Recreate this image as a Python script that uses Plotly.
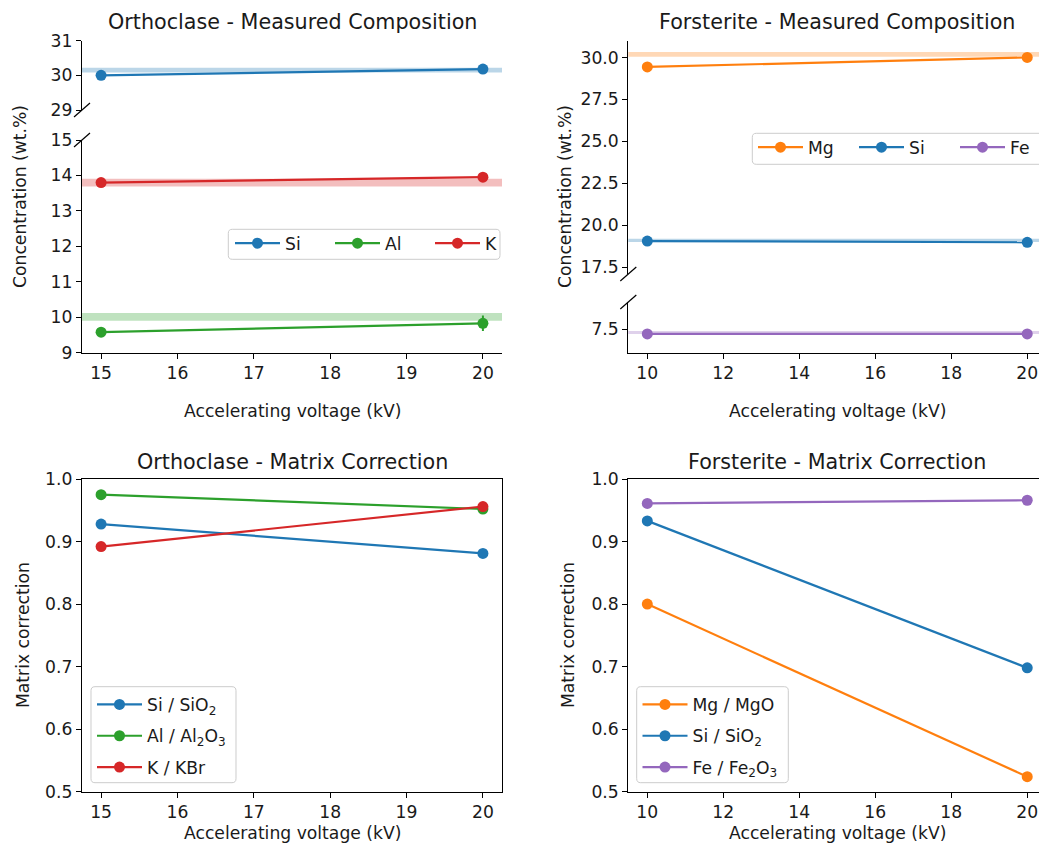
import plotly.graph_objects as go

W, H = 1039, 846
FONT = "DejaVu Sans"
TXT = "#1a1a1a"
FS = 17.2      # 10pt text
FT = 20.7      # 12pt titles

# ---------------- data ----------------
# Orthoclase - measured composition (wt.%)
ortho_kv = [15, 20]
ortho_elements = ["Si", "Al", "K"]
ortho_values = {
    "Si": [30.00, 30.18],
    "Al": [9.58, 9.83],
    "K": [13.80, 13.95],
}
ortho_errors = {
    "Si": [0.02, 0.03],
    "Al": [0.03, 0.22],
    "K": [0.03, 0.04],
}
# nominal composition band (low, high)
ortho_nominal = {
    "Si": [30.08, 30.22],
    "Al": [9.90, 10.12],
    "K": [13.69, 13.91],
}

# Forsterite - measured composition (wt.%)
fo_kv = [10, 20]
fo_elements = ["Mg", "Si", "Fe"]
fo_values = {
    "Mg": [29.44, 30.00],
    "Si": [19.06, 18.99],
    "Fe": [7.22, 7.22],
}
fo_errors = {
    "Mg": [0.05, 0.05],
    "Si": [0.04, 0.04],
    "Fe": [0.03, 0.03],
}
fo_nominal = {
    "Mg": [30.05, 30.32],
    "Si": [19.00, 19.20],
    "Fe": [7.22, 7.40],
}

# Matrix corrections
ortho_mc_labels = ["Si / SiO<sub>2</sub>", "Al / Al<sub>2</sub>O<sub>3</sub>", "K / KBr"]
ortho_mc_values = [
    [0.928, 0.881],
    [0.975, 0.952],
    [0.892, 0.956],
]
fo_mc_labels = ["Mg / MgO", "Si / SiO<sub>2</sub>", "Fe / Fe<sub>2</sub>O<sub>3</sub>"]
fo_mc_values = [
    [0.800, 0.524],
    [0.933, 0.698],
    [0.961, 0.966],
]

COLORS = {"Si": "#1f77b4", "Al": "#2ca02c", "K": "#d62728", "Mg": "#ff7f0e", "Fe": "#9467bd"}
ortho_mc_colors = ["#1f77b4", "#2ca02c", "#d62728"]
fo_mc_colors = ["#ff7f0e", "#1f77b4", "#9467bd"]


def rgba(hexc, a):
    h = hexc.lstrip("#")
    return "rgba(%d,%d,%d,%s)" % (int(h[0:2], 16), int(h[2:4], 16), int(h[4:6], 16), a)


def dx(x0, x1):
    return [x0 / W, min(x1 / W, 1.0)]


def dy(top, bot):
    return [1 - bot / H, 1 - top / H]


# ---------------- layout axes ----------------
tickfont = dict(family=FONT, size=FS, color=TXT)
common = dict(showgrid=False, zeroline=False, showline=True, linecolor="black", linewidth=1.2,
              ticks="outside", ticklen=5, tickwidth=1.2, tickcolor="black", tickfont=tickfont)

ranges = {
    "y": [29, 31], "y2": [9, 15], "y3": [17.1, 31.0], "y4": [6.1, 9.12],
}

layout = dict(
    width=W, height=H,
    margin=dict(l=0, r=0, t=0, b=0, autoexpand=False),
    paper_bgcolor="white", plot_bgcolor="white",
    font=dict(family=FONT, size=FS, color=TXT),
    # top-left, upper segment
    xaxis=dict(common, domain=dx(82, 502), range=[14.75, 20.25], anchor="y",
               showline=False, ticks="", showticklabels=False),
    yaxis=dict(common, domain=dy(40.7, 110), range=ranges["y"], anchor="x",
               tickvals=[29, 30, 31]),
    # top-left, lower segment
    xaxis2=dict(common, domain=dx(82, 502), range=[14.75, 20.25], anchor="y2",
                tickvals=[15, 16, 17, 18, 19, 20]),
    yaxis2=dict(common, domain=dy(140, 352.7), range=ranges["y2"], anchor="x2",
                tickvals=[9, 10, 11, 12, 13, 14, 15]),
    # top-right, upper segment
    xaxis3=dict(common, domain=dx(628.3, 1039), range=[9.5, 20.31], anchor="y3",
                showline=False, ticks="", showticklabels=False),
    yaxis3=dict(common, domain=dy(40.7, 274), range=ranges["y3"], anchor="x3",
                tickvals=[17.5, 20.0, 22.5, 25.0, 27.5, 30.0], tickformat=".1f"),
    # top-right, lower segment
    xaxis4=dict(common, domain=dx(628.3, 1039), range=[9.5, 20.31], anchor="y4",
                tickvals=[10, 12, 14, 16, 18, 20]),
    yaxis4=dict(common, domain=dy(302, 352.7), range=ranges["y4"], anchor="x4",
                tickvals=[7.5], tickformat=".1f"),
    # bottom-left
    xaxis5=dict(common, domain=dx(82, 502), range=[14.75, 20.25], anchor="y5", mirror=True,
                tickvals=[15, 16, 17, 18, 19, 20]),
    yaxis5=dict(common, domain=dy(479, 791.7), range=[0.5, 1.0], anchor="x5", mirror=True,
                tickvals=[0.5, 0.6, 0.7, 0.8, 0.9, 1.0], tickformat=".1f"),
    # bottom-right
    xaxis6=dict(common, domain=dx(628.3, 1039), range=[9.5, 20.31], anchor="y6", mirror=True,
                tickvals=[10, 12, 14, 16, 18, 20]),
    yaxis6=dict(common, domain=dy(479, 791.7), range=[0.5, 1.0], anchor="x6",
                tickvals=[0.5, 0.6, 0.7, 0.8, 0.9, 1.0], tickformat=".1f"),
)

legend_common = dict(bgcolor="rgba(0,0,0,0)", borderwidth=0, itemwidth=45,
                     font=dict(family=FONT, size=FS, color=TXT), xanchor="left", yanchor="top")
layout["legend"] = dict(legend_common, x=230 / W, y=1 - 225.5 / H, orientation="h",
                        entrywidth=40, entrywidthmode="pixels")
layout["legend2"] = dict(legend_common, x=753 / W, y=1 - 129.5 / H, orientation="h",
                         entrywidth=41, entrywidthmode="pixels")
layout["legend3"] = dict(legend_common, x=92 / W, y=1 - 686.7 / H, tracegroupgap=6)
layout["legend4"] = dict(legend_common, x=637.5 / W, y=1 - 686.7 / H, tracegroupgap=6)

fig = go.Figure(layout=layout)
shapes = []


def in_range(vals, rng):
    return all(rng[0] <= v <= rng[1] for v in vals)


def rounded_box(x0, y0, x1, y1, r=4):
    # pixel coordinates (top-left origin) -> paper path with rounded corners
    def P(x, y):
        return "%.5f,%.5f" % (x / W, 1 - y / H)
    path = ("M" + P(x0 + r, y0) + " L" + P(x1 - r, y0) + " Q" + P(x1, y0) + " " + P(x1, y0 + r) +
            " L" + P(x1, y1 - r) + " Q" + P(x1, y1) + " " + P(x1 - r, y1) +
            " L" + P(x0 + r, y1) + " Q" + P(x0, y1) + " " + P(x0, y1 - r) +
            " L" + P(x0, y0 + r) + " Q" + P(x0, y0) + " " + P(x0 + r, y0) + " Z")
    return dict(type="path", xref="paper", yref="paper", path=path,
                fillcolor="rgba(255,255,255,0.8)", line=dict(color="#cccccc", width=1), layer="above")


# ---------- top-left: orthoclase measured composition ----------
for el in ortho_elements:
    vals = ortho_values[el]
    ax = "y" if in_range(vals, ranges["y"]) else "y2"
    xa = "x" if ax == "y" else "x2"
    band = ortho_nominal[el]
    shapes.append(dict(type="rect", xref=xa + " domain", yref=ax, x0=0, x1=1,
                       y0=band[0], y1=band[1], fillcolor=rgba(COLORS[el], 0.3),
                       line=dict(width=0), layer="below"))
    fig.add_trace(go.Scatter(
        x=ortho_kv, y=vals, xaxis=xa, yaxis=ax, name=el, legend="legend",
        mode="lines+markers", line=dict(color=COLORS[el], width=2.2),
        marker=dict(color=COLORS[el], size=11),
        error_y=dict(type="data", array=ortho_errors[el], color=COLORS[el], thickness=2, width=0),
    ))

# ---------- top-right: forsterite measured composition ----------
for el in fo_elements:
    vals = fo_values[el]
    ax = "y3" if in_range(vals, ranges["y3"]) else "y4"
    xa = "x3" if ax == "y3" else "x4"
    band = fo_nominal[el]
    shapes.append(dict(type="rect", xref=xa + " domain", yref=ax, x0=0, x1=1,
                       y0=band[0], y1=band[1], fillcolor=rgba(COLORS[el], 0.3),
                       line=dict(width=0), layer="below"))
    fig.add_trace(go.Scatter(
        x=fo_kv, y=vals, xaxis=xa, yaxis=ax, name=el, legend="legend2",
        mode="lines+markers", line=dict(color=COLORS[el], width=2.2),
        marker=dict(color=COLORS[el], size=11),
        error_y=dict(type="data", array=fo_errors[el], color=COLORS[el], thickness=2, width=0),
    ))

# ---------- bottom-left: orthoclase matrix correction ----------
for i, (lab, vals) in enumerate(zip(ortho_mc_labels, ortho_mc_values)):
    fig.add_trace(go.Scatter(
        x=ortho_kv, y=vals, xaxis="x5", yaxis="y5", name=lab, legend="legend3",
        legendgroup="oc%d" % i, mode="lines+markers",
        line=dict(color=ortho_mc_colors[i], width=2.2),
        marker=dict(color=ortho_mc_colors[i], size=11),
    ))

# ---------- bottom-right: forsterite matrix correction ----------
for i, (lab, vals) in enumerate(zip(fo_mc_labels, fo_mc_values)):
    fig.add_trace(go.Scatter(
        x=fo_kv, y=vals, xaxis="x6", yaxis="y6", name=lab, legend="legend4",
        legendgroup="fc%d" % i, mode="lines+markers",
        line=dict(color=fo_mc_colors[i], width=2.2),
        marker=dict(color=fo_mc_colors[i], size=11),
    ))

# ---------- legend frames ----------
shapes.append(rounded_box(228.3, 229.3, 500, 259.3))
shapes.append(rounded_box(752.3, 133.3, 1050, 164.3))
shapes.append(rounded_box(91, 686.7, 236, 782.7))
shapes.append(rounded_box(636.7, 686.7, 788.3, 782.7))

# ---------- break marks ----------
for (cx, cy) in [(82, 110), (82, 140), (628.3, 274), (628.3, 302)]:
    shapes.append(dict(type="line", xref="paper", yref="paper",
                       x0=(cx - 8) / W, y0=1 - (cy + 7) / H, x1=(cx + 8) / W, y1=1 - (cy - 7) / H,
                       line=dict(color="black", width=1.2)))

# ---------- annotations: titles & axis labels ----------
ann = []
titles = [("Orthoclase - Measured Composition", 292, 22),
          ("Forsterite - Measured Composition", 837, 22),
          ("Orthoclase - Matrix Correction", 292, 461.5),
          ("Forsterite - Matrix Correction", 837, 461.5)]
for t, x, y in titles:
    ann.append(dict(text=t, x=x / W, y=1 - y / H, xref="paper", yref="paper",
                    xanchor="center", yanchor="middle", showarrow=False,
                    font=dict(family=FONT, size=FT, color=TXT)))
xlabels = [(292, 411), (837, 411), (292, 833), (837, 833)]
for x, y in xlabels:
    ann.append(dict(text="Accelerating voltage (kV)", x=x / W, y=1 - y / H, xref="paper", yref="paper",
                    xanchor="center", yanchor="middle", showarrow=False,
                    font=dict(family=FONT, size=FS, color=TXT)))
ylabels = [("Concentration (wt.%)", 20, 197), ("Concentration (wt.%)", 565, 197),
           ("Matrix correction", 23, 635), ("Matrix correction", 568, 635)]
for t, x, y in ylabels:
    ann.append(dict(text=t, x=x / W, y=1 - y / H, xref="paper", yref="paper", textangle=-90,
                    xanchor="center", yanchor="middle", showarrow=False,
                    font=dict(family=FONT, size=FS, color=TXT)))

fig.update_layout(shapes=shapes, annotations=ann)
fig.write_html("out.html", config={"displayModeBar": False},
               post_script="document.body.style.margin='0px';")
